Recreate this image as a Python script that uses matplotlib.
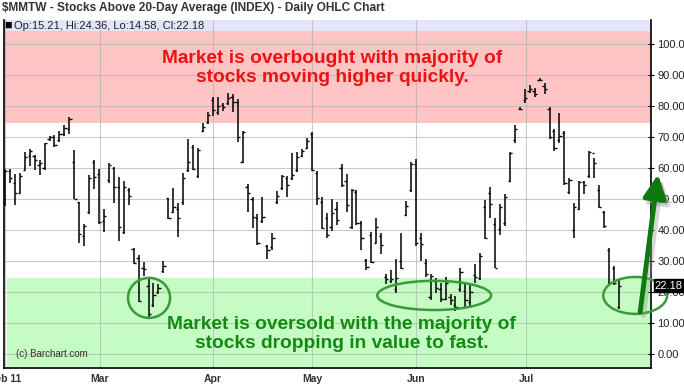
import matplotlib
matplotlib.use('Agg')
import matplotlib.pyplot as plt
from matplotlib.patches import Ellipse
import numpy as np

plt.rcParams['font.family'] = ['Liberation Sans', 'DejaVu Sans']

# daily OHLC values (one entry per trading day from Feb 1)
opens = [50.0, 59.0, 55.1, 52.0, 59.5, 63.8, 64.0, 61.0, 60.0, 69.5,
         70.0, 69.0, 71.0, 72.6, 62.1, 49.0, 38.0, 46.0, 62.0, 58.0,
         43.0, 56.2, 60.0, 54.0, 39.5, 53.0, 34.0, 31.0, 28.0, 22.0,
         16.0, 20.0, 27.0, 50.3, 46.0, 47.0, 49.0, 59.5, 67.0, 57.5,
         72.0, 75.0, 82.0, 78.0, 80.5, 81.0, 83.0, 81.5, 62.0, 54.0,
         50.0, 44.0, 43.0, 35.0, 34.5, 49.0, 53.5, 57.0, 57.0, 59.5,
         64.0, 66.5, 71.0, 58.5, 49.0, 44.0, 41.0, 47.0, 60.0, 56.0,
         41.0, 52.5, 42.5, 30.5, 38.5, 36.0, 38.0, 25.0, 23.5, 21.0,
         30.0, 45.0, 53.0, 61.5, 37.5, 29.5, 18.5, 23.5, 21.0, 18.0,
         18.5, 16.0, 21.0, 20.5, 17.0, 25.5, 24.5, 47.5, 52.0, 42.0,
         40.5, 42.5, 56.0, 69.0, 79.0, 82.0, 85.0, 85.0, 88.5, 86.5,
         79.0, 72.0, 69.0, 71.5, 52.5, 40.0, 47.0, 55.5, 57.5, 65.0,
         53.0, 46.0, 33.5, 28.0, 15.21]
highs = [59.8, 59.8, 58.2, 58.4, 65.4, 66.1, 64.3, 62.7, 68.3, 70.4,
         70.6, 71.9, 74.0, 76.4, 65.9, 49.2, 42.0, 57.8, 62.7, 59.7,
         46.8, 61.6, 60.3, 57.1, 55.9, 53.5, 34.4, 32.0, 29.7, 24.2,
         22.9, 22.6, 30.2, 50.5, 53.5, 48.7, 58.4, 69.3, 67.5, 66.4,
         74.7, 78.0, 83.1, 83.1, 80.9, 84.2, 83.9, 82.2, 72.0, 54.8,
         50.8, 45.1, 50.8, 35.3, 39.0, 52.8, 57.8, 57.5, 64.8, 65.1,
         66.2, 69.7, 71.7, 59.1, 50.8, 45.7, 50.0, 49.0, 61.3, 58.0,
         53.2, 53.0, 43.0, 30.9, 39.3, 44.1, 39.0, 25.8, 27.2, 30.7,
         39.0, 49.4, 62.1, 62.9, 39.0, 30.9, 25.8, 24.5, 22.9, 24.8,
         19.4, 18.8, 28.0, 22.9, 22.9, 29.1, 32.8, 49.8, 54.1, 43.9,
         48.5, 51.7, 65.4, 74.0, 79.7, 85.6, 86.9, 85.8, 89.0, 87.4,
         79.7, 72.6, 77.7, 72.0, 56.8, 48.9, 55.9, 55.9, 65.6, 63.2,
         54.6, 46.2, 34.2, 28.5, 24.36]
lows = [47.9, 55.1, 48.2, 51.9, 59.4, 60.8, 59.4, 57.8, 59.4, 68.9,
        66.8, 68.6, 70.5, 71.1, 50.0, 36.0, 35.0, 45.3, 53.2, 42.0,
        39.5, 55.1, 48.7, 36.6, 38.8, 48.2, 29.1, 16.8, 25.4, 11.6,
        15.4, 19.4, 26.1, 43.5, 45.7, 37.9, 48.2, 58.9, 59.4, 56.8,
        71.8, 74.3, 77.0, 77.2, 78.3, 80.4, 78.0, 68.6, 61.6, 46.0,
        40.6, 35.3, 42.5, 30.9, 33.6, 48.4, 53.0, 50.6, 56.2, 58.9,
        63.5, 66.1, 59.1, 48.0, 40.3, 37.4, 39.9, 41.7, 54.1, 46.0,
        40.3, 41.7, 33.6, 27.2, 29.5, 35.8, 32.2, 22.7, 22.9, 19.9,
        27.4, 44.6, 52.5, 35.0, 30.2, 25.0, 17.5, 19.7, 17.0, 17.5,
        15.9, 14.1, 20.2, 15.1, 15.6, 22.9, 24.0, 37.1, 43.9, 27.7,
        38.5, 41.5, 55.5, 68.3, 78.8, 81.2, 84.4, 82.9, 88.3, 84.0,
        69.4, 65.7, 68.0, 54.6, 51.7, 37.4, 46.5, 51.7, 56.8, 56.8,
        47.1, 40.6, 22.3, 22.3, 14.58]
closes = [59.0, 56.7, 52.0, 57.5, 63.7, 65.5, 62.7, 61.6, 68.0, 70.0,
          67.5, 71.0, 73.0, 76.0, 50.2, 38.8, 41.4, 57.0, 57.1, 42.8,
          44.6, 61.0, 53.9, 41.0, 54.0, 51.0, 29.5, 17.3, 27.4, 13.0,
          19.0, 21.5, 28.4, 44.0, 47.6, 43.9, 56.8, 62.1, 59.7, 65.9,
          73.4, 77.2, 78.8, 80.0, 79.6, 82.6, 81.5, 70.2, 71.8, 52.1,
          44.4, 36.0, 44.4, 33.6, 37.4, 51.1, 57.5, 54.6, 57.8, 63.5,
          65.6, 68.9, 59.4, 50.5, 40.6, 38.5, 45.5, 43.3, 54.6, 48.1,
          53.0, 42.2, 37.4, 28.3, 29.9, 41.2, 35.3, 24.2, 24.3, 24.5,
          27.7, 47.8, 61.3, 35.8, 35.6, 25.9, 25.4, 21.3, 17.7, 22.9,
          17.5, 15.4, 26.7, 17.5, 20.2, 24.8, 31.7, 37.4, 48.5, 27.7,
          47.6, 50.8, 65.0, 72.6, 79.2, 82.6, 85.5, 84.0, 88.6, 85.5,
          70.2, 66.4, 70.4, 55.1, 56.2, 47.6, 55.7, 54.6, 65.4, 61.6,
          47.6, 41.4, 22.9, 22.9, 22.18]

month_labels = ['Feb 11', 'Mar', 'Apr', 'May', 'Jun', 'Jul']
month_start = [0, 19.2, 42, 62, 83, 105.3]  # bar index of first trading day
y_ticks = [0, 10, 20, 30, 40, 50, 60, 70, 80, 90, 100]

x = np.arange(len(closes))
opens = np.array(opens); highs = np.array(highs)
lows = np.array(lows); closes = np.array(closes)

fig = plt.figure(figsize=(6.84, 3.88), dpi=100)
ax = fig.add_axes([4/684, 20/388, 647/684, 348/388])
ax.set_xlim(-0.2, 130.5)
ax.set_ylim(-4.4, 107.8)

# zones
ax.axhspan(74.6, 104.3, color='#ffc4c4', lw=0, zorder=0)
ax.axhspan(-4.0, 24.6, xmin=0.004, color='#c4fcc4', lw=0, zorder=0)
ax.axhspan(104.3, 107.8, color='#e4e4fa', lw=0, zorder=0)

# grid
for v in y_ticks:
    ax.axhline(v, color='#b4b4b4', lw=0.8, alpha=0.7, zorder=1)
for m in month_start:
    ax.axvline(m, color='#b4b4b4', lw=0.8, alpha=0.7, zorder=1)

# OHLC bars
tk = 0.45
ax.vlines(x, lows, highs, color='black', lw=1.1, zorder=3)
ax.hlines(opens, x - tk, x, color='black', lw=1.0, zorder=3)
ax.hlines(closes, x, x + tk, color='black', lw=1.0, zorder=3)

ax.spines['top'].set_visible(False)
for s in ['left', 'bottom', 'right']:
    ax.spines[s].set_linewidth(1.2)
    ax.spines[s].set_color('black')

ax.yaxis.tick_right()
ax.set_yticks(y_ticks)
ax.set_yticklabels(['%.2f' % v for v in y_ticks])
ax.tick_params(axis='y', direction='inout', length=5, width=0.8, pad=2,
               labelsize=8, labelcolor='#222222')
ax.set_xticks(month_start)
ax.set_xticklabels(month_labels, fontweight='bold')
ax.tick_params(axis='x', length=0, pad=4, labelsize=7.5, labelcolor='#333333')

# title and legend strip
fig.text(2/684, 1 - 8/388, '$MMTW - Stocks Above 20-Day Average (INDEX) - Daily OHLC Chart',
         fontsize=8.6, fontweight='bold', color='#333333', va='center', ha='left')
ax.text(0.001, 106.0, '\u25A0', transform=ax.get_yaxis_transform(), fontsize=9,
        va='center', ha='left', color='black')
ax.text(0.016, 106.0, 'Op:15.21, Hi:24.36, Lo:14.58, Cl:22.18',
        transform=ax.get_yaxis_transform(), fontsize=8, va='center', ha='left', color='#222222')

# last value tag
ax.text(1.006, closes[-1], '%.2f' % closes[-1], transform=ax.get_yaxis_transform(),
        fontsize=8, color='white', va='center', ha='left', clip_on=False, zorder=8,
        bbox=dict(boxstyle='square,pad=0.1', fc='black', ec='black'))

# annotations
ax.text(0.507, 0.862, 'Market is overbought with majority of\nstocks moving higher quickly.',
        transform=ax.transAxes, ha='center', va='center', fontsize=13.8,
        fontweight='bold', color='#ee1111', linespacing=1.12, zorder=4)
ax.text(0.522, 0.098, 'Market is oversold with the majority of\nstocks dropping in value to fast.',
        transform=ax.transAxes, ha='center', va='center', fontsize=13.8,
        fontweight='bold', color='#128a12', linespacing=1.12, zorder=4)
ax.text(0.018, 0.040, '(c) Barchart.com', transform=ax.transAxes, fontsize=7,
        color='#333333', va='center', ha='left')

for cx, cy, w, h in [(29.1, 18.2, 8.5, 12.9), (86.7, 19.0, 23.0, 9.4), (127.3, 19.0, 12.9, 11.9)]:
    ax.add_patch(Ellipse((cx, cy), w, h, fill=False, ec='#3c9a3c', lw=1.8,
                         zorder=5, clip_on=False))

# arrow (with a soft shadow)
ax.annotate('', xy=(132.6, 56.5), xytext=(129.0, 12.5),
            arrowprops=dict(arrowstyle='-|>,head_length=1.4,head_width=0.7', lw=3.5,
                            color='#999999', alpha=0.4, shrinkA=0, shrinkB=0),
            annotation_clip=False, zorder=5)
ax.annotate('', xy=(131.9, 58.0), xytext=(128.3, 13.6),
            arrowprops=dict(arrowstyle='-|>,head_length=1.4,head_width=0.7', lw=3.5,
                            color='#0e7a0e', shrinkA=0, shrinkB=0),
            annotation_clip=False, zorder=6)

fig.savefig('out.png', dpi=100)
